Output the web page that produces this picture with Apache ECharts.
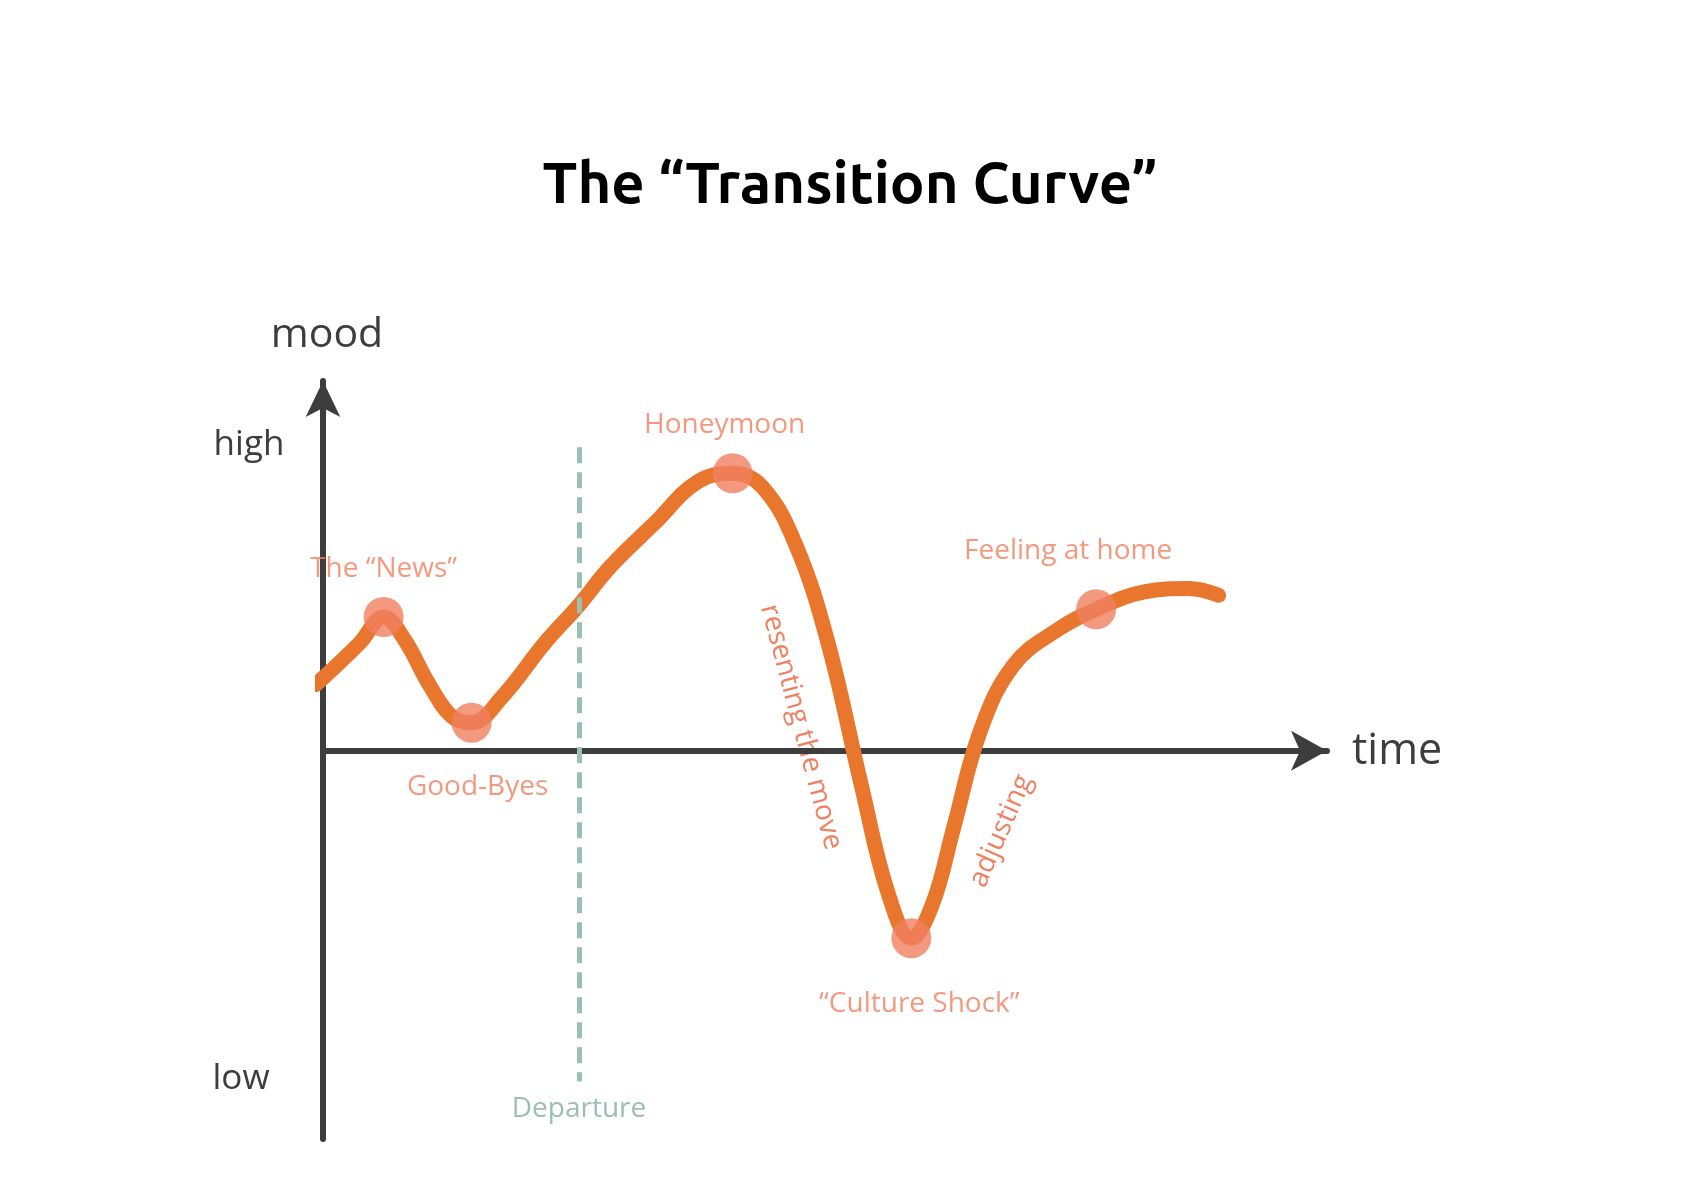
<!DOCTYPE html>
<html><head><meta charset="utf-8">
<script src="https://cdn.jsdelivr.net/npm/echarts@6/dist/echarts.min.js"></script>
<style>html,body{margin:0;background:#fff}#c{width:1700px;height:1202px}</style>
</head><body><div id="c"></div>
<script>
const curveX = [-0.69,3.66,6.04,8.0,10.7,12.9,14.8,17.8,22.1,25.5,28.6,33.0,37.3,40.8,43.8,47.1,50.3,53.6,56.3,58.6,60.7,62.8,65.5,68.8,73.1,77.0,81.8,86.2,89.2];
const curveY = [21.7,35.3,43.8,37.0,21.0,11.0,9.2,17.5,35.3,47.7,60.2,74.4,88.0,90.8,86.2,67.3,35.3,-11.0,-46.7,-61.3,-50.2,-25.3,6.8,28.1,39.5,46.3,52.0,53.1,50.9];
const milestoneNames = ['The “News”','Good-Byes','Honeymoon','“Culture Shock”','Feeling at home'];
const milestoneX = [6.04,14.8,40.8,58.6,77.0];
const milestoneY = [43.8,9.2,90.8,-61.3,46.3];
const departureX = 25.5;

const orange='#f08060', line='#e8762c', grey='#3d3d3d', green='#9bbfb0';
const F='"Open Sans", sans-serif';
const chart = echarts.init(document.getElementById('c'));
const labelPos = [[0,-48],[6,-66+130],[-8,-48],[8,66],[-28,-58]];
chart.setOption({
  animation:false,
  grid:{left:323,width:1004,top:381,height:758},
  xAxis:{type:'value',min:0,max:100,splitLine:{show:false},axisTick:{show:false},axisLabel:{show:false},
    axisLine:{onZero:true,lineStyle:{color:grey,width:6},symbol:['none','arrow'],symbolSize:[30,36]}},
  yAxis:{type:'value',min:-127,max:121,splitLine:{show:false},axisTick:{show:false},axisLabel:{show:false},
    axisLine:{onZero:false,lineStyle:{color:grey,width:6},symbol:['none','arrow'],symbolSize:[26,36]}},
  series:[
    {type:'line',data:curveX.map((x,i)=>[x,curveY[i]]),smooth:0.4,showSymbol:false,
      lineStyle:{color:line,width:15,cap:'round'},z:3,
      markLine:{silent:true,symbol:'none',label:{show:false},
        lineStyle:{color:green,width:5,type:[16,9]},
        data:[[{coord:[departureX,99.3]},{coord:[departureX,-108.2]}]]}},
    {type:'scatter',data:milestoneX.map((x,i)=>({value:[x,milestoneY[i]],name:milestoneNames[i],
        label:{show:true,formatter:milestoneNames[i],position:'inside',offset:labelPos[i],color:orange,fontSize:28,fontFamily:F}})),
      symbolSize:40,itemStyle:{color:orange},z:4}
  ],
  graphic:[
    {type:'text',left:'center',top:155,style:{text:'The “Transition Curve”',font:'bold 58px Ubuntu, Lato, "Open Sans", sans-serif',fill:'#000'}},
    {type:'text',x:327,y:335,style:{text:'mood',font:'41px '+F,fill:grey,align:'center',verticalAlign:'middle'}},
    {type:'text',x:1352,y:752,style:{text:'time',font:'43px '+F,fill:grey,align:'left',verticalAlign:'middle'}},
    {type:'text',x:249,y:445,style:{text:'high',font:'35px '+F,fill:grey,align:'center',verticalAlign:'middle'}},
    {type:'text',x:241,y:1079,style:{text:'low',font:'35px '+F,fill:grey,align:'center',verticalAlign:'middle'}},
    {type:'text',x:579,y:1109,style:{text:'Departure',font:'28px '+F,fill:green,align:'center',verticalAlign:'middle'}},
    {type:'text',x:801,y:727,rotation:-1.31,style:{text:'resenting the move',font:'28px '+F,fill:orange,align:'center',verticalAlign:'middle'}},
    {type:'text',x:1001,y:831,rotation:1.16,style:{text:'adjusting',font:'28px '+F,fill:orange,align:'center',verticalAlign:'middle'}}
  ]
});
</script></body></html>
